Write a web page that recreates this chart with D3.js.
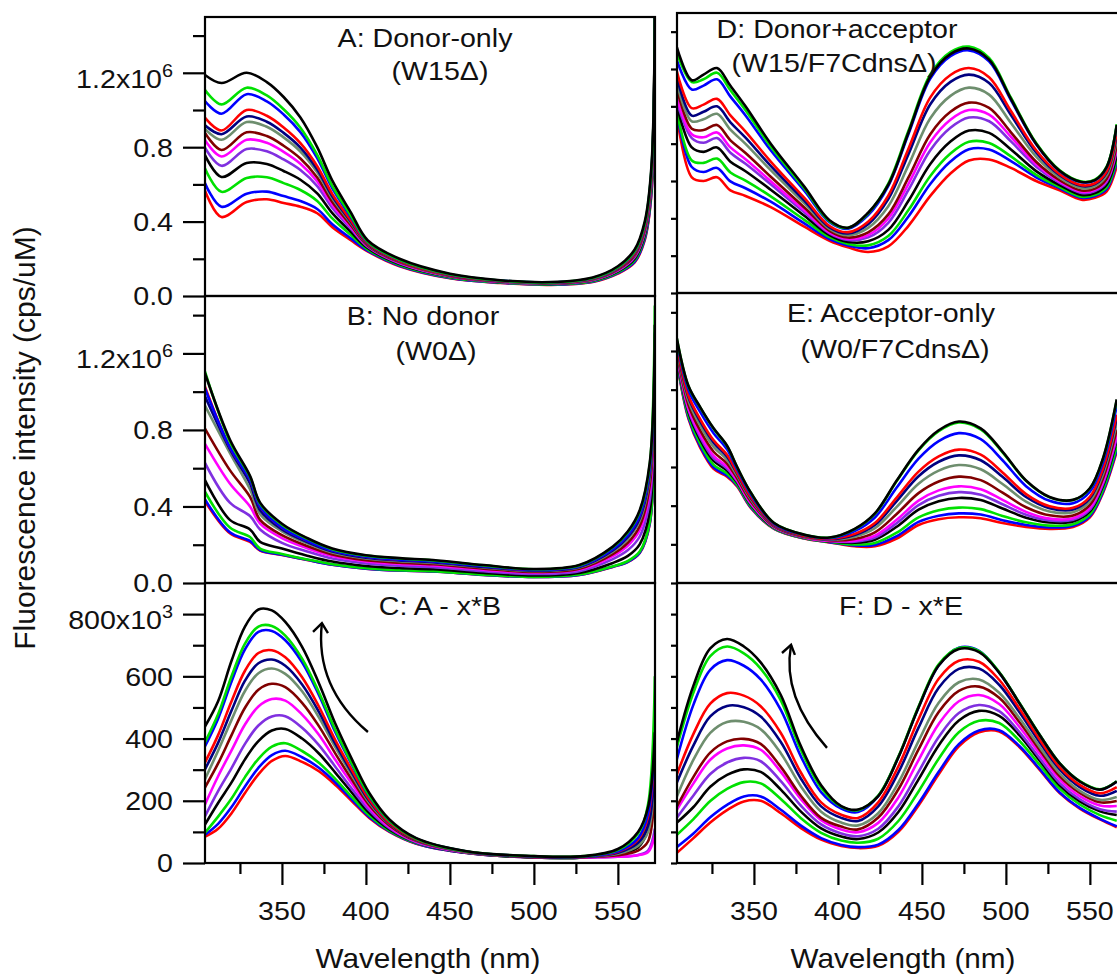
<!DOCTYPE html>
<html><head><meta charset="utf-8">
<script src="https://cdn.jsdelivr.net/npm/d3@7"></script>
<style>body{margin:0;background:#fff}svg{display:block}</style>
</head><body>
<svg id="fig" width="1117" height="977"></svg>
<script>
// Trace colours, top trace (index 0) to bottom trace (index 12)
const traceColors = ["#000000", "#00e000", "#0000ff", "#ff0000", "#000080", "#6e8e6e",
  "#800000", "#ff00ff", "#8030e0", "#000000", "#00e000", "#0000ff", "#ff0000"];

// A: Donor-only (W15Δ), x10^6 cps/uM
const wlA = [304, 314, 329, 341, 351, 361, 371, 380, 391, 401, 420, 450, 480, 510, 535, 550, 560, 566, 570, 572];
const specA = [
  [1.19, 1.145, 1.20, 1.15, 1.07, 0.96, 0.80, 0.62, 0.45, 0.30, 0.20, 0.12, 0.085, 0.075, 0.10, 0.16, 0.25, 0.40, 0.70, 1.6],
  [1.11, 1.03, 1.12, 1.078, 1.004, 0.905, 0.759, 0.591, 0.433, 0.293, 0.195, 0.117, 0.083, 0.073, 0.097, 0.155, 0.242, 0.389, 0.683, 1.57],
  [1.05, 0.98, 1.085, 1.046, 0.976, 0.881, 0.741, 0.579, 0.425, 0.29, 0.193, 0.116, 0.083, 0.073, 0.096, 0.153, 0.238, 0.384, 0.675, 1.55],
  [0.96, 0.89, 1.00, 0.969, 0.906, 0.822, 0.698, 0.548, 0.407, 0.283, 0.188, 0.113, 0.081, 0.071, 0.093, 0.148, 0.23, 0.371, 0.657, 1.51],
  [0.92, 0.87, 0.965, 0.937, 0.877, 0.798, 0.68, 0.536, 0.399, 0.28, 0.186, 0.112, 0.08, 0.07, 0.092, 0.146, 0.226, 0.366, 0.649, 1.5],
  [0.90, 0.84, 0.935, 0.91, 0.853, 0.777, 0.665, 0.525, 0.393, 0.277, 0.185, 0.11, 0.079, 0.069, 0.09, 0.145, 0.223, 0.362, 0.643, 1.49],
  [0.88, 0.785, 0.88, 0.86, 0.808, 0.739, 0.637, 0.505, 0.381, 0.272, 0.182, 0.108, 0.078, 0.068, 0.089, 0.142, 0.218, 0.354, 0.631, 1.46],
  [0.84, 0.75, 0.84, 0.824, 0.775, 0.711, 0.616, 0.49, 0.372, 0.269, 0.179, 0.107, 0.077, 0.067, 0.087, 0.139, 0.214, 0.348, 0.622, 1.44],
  [0.80, 0.70, 0.79, 0.778, 0.734, 0.677, 0.591, 0.473, 0.362, 0.265, 0.176, 0.105, 0.076, 0.066, 0.085, 0.136, 0.209, 0.341, 0.612, 1.42],
  [0.76, 0.64, 0.715, 0.71, 0.672, 0.625, 0.552, 0.446, 0.345, 0.258, 0.172, 0.103, 0.075, 0.065, 0.083, 0.132, 0.201, 0.33, 0.595, 1.39],
  [0.69, 0.56, 0.635, 0.638, 0.607, 0.57, 0.511, 0.417, 0.328, 0.251, 0.167, 0.10, 0.073, 0.063, 0.08, 0.127, 0.193, 0.319, 0.578, 1.36],
  [0.61, 0.48, 0.55, 0.561, 0.537, 0.511, 0.468, 0.386, 0.31, 0.244, 0.163, 0.097, 0.071, 0.061, 0.077, 0.123, 0.185, 0.307, 0.56, 1.32],
  [0.57, 0.425, 0.505, 0.52, 0.50, 0.48, 0.445, 0.37, 0.30, 0.24, 0.16, 0.095, 0.07, 0.06, 0.075, 0.12, 0.18, 0.30, 0.55, 1.3]
];

// B: No donor (W0Δ), x10^6 cps/uM
const wlB = [304, 319, 331, 337, 350, 365, 380, 400, 420, 440, 470, 500, 527, 547, 556, 563, 569, 572];
const specB = [
  [1.10, 0.75, 0.56, 0.42, 0.31, 0.235, 0.18, 0.145, 0.13, 0.12, 0.094, 0.073, 0.094, 0.19, 0.27, 0.38, 0.63, 1.35],
  [1.11, 0.74, 0.555, 0.415, 0.305, 0.232, 0.177, 0.143, 0.128, 0.118, 0.092, 0.072, 0.092, 0.187, 0.265, 0.373, 0.62, 1.45],
  [1.02, 0.71, 0.54, 0.40, 0.29, 0.221, 0.17, 0.137, 0.122, 0.113, 0.088, 0.068, 0.088, 0.177, 0.251, 0.353, 0.592, 1.31],
  [1.03, 0.71, 0.54, 0.40, 0.29, 0.222, 0.171, 0.138, 0.123, 0.114, 0.089, 0.069, 0.089, 0.178, 0.252, 0.354, 0.59, 1.30],
  [0.98, 0.70, 0.52, 0.38, 0.28, 0.214, 0.164, 0.132, 0.118, 0.109, 0.084, 0.065, 0.084, 0.17, 0.241, 0.339, 0.571, 1.286],
  [0.93, 0.68, 0.49, 0.36, 0.27, 0.207, 0.159, 0.128, 0.114, 0.105, 0.081, 0.063, 0.081, 0.164, 0.231, 0.325, 0.552, 1.264],
  [0.81, 0.59, 0.45, 0.33, 0.25, 0.193, 0.149, 0.119, 0.106, 0.098, 0.075, 0.058, 0.075, 0.151, 0.211, 0.298, 0.512, 1.22],
  [0.73, 0.52, 0.40, 0.31, 0.235, 0.182, 0.141, 0.113, 0.10, 0.092, 0.07, 0.054, 0.07, 0.141, 0.196, 0.277, 0.483, 1.19],
  [0.63, 0.42, 0.35, 0.28, 0.21, 0.165, 0.128, 0.102, 0.09, 0.083, 0.062, 0.047, 0.062, 0.125, 0.172, 0.243, 0.434, 1.135],
  [0.54, 0.33, 0.28, 0.215, 0.18, 0.143, 0.112, 0.089, 0.078, 0.072, 0.053, 0.039, 0.053, 0.105, 0.142, 0.202, 0.375, 1.07],
  [0.48, 0.29, 0.24, 0.18, 0.152, 0.123, 0.098, 0.077, 0.067, 0.062, 0.044, 0.032, 0.044, 0.087, 0.115, 0.164, 0.32, 1.01],
  [0.44, 0.265, 0.22, 0.172, 0.148, 0.121, 0.096, 0.075, 0.065, 0.06, 0.042, 0.031, 0.042, 0.085, 0.111, 0.158, 0.312, 1.0],
  [0.43, 0.26, 0.215, 0.17, 0.147, 0.12, 0.095, 0.075, 0.065, 0.06, 0.042, 0.031, 0.042, 0.084, 0.11, 0.157, 0.31, 1.0]
];

// C: A - x*B, x10^3 cps/uM
const wlC = [304, 312, 320, 328, 336, 344, 352, 362, 372, 382, 392, 402, 414, 430, 460, 500, 530, 550, 562, 568, 572];
const specC = [
  [437, 520, 650, 760, 815, 812, 775, 695, 578, 445, 330, 225, 140, 80, 38, 22, 22, 45, 100, 180, 420],
  [386, 478, 600, 705, 760, 762, 731, 657, 549, 425, 316, 217, 136, 78, 37, 22, 22, 42, 95, 190, 600],
  [373, 464, 583, 687, 743, 746, 716, 645, 540, 418, 312, 214, 135, 78, 37, 21, 21, 38, 80, 160, 400],
  [321, 411, 520, 618, 675, 684, 661, 597, 503, 393, 295, 204, 129, 75, 36, 21, 21, 36, 75, 150, 380],
  [299, 386, 490, 586, 642, 654, 634, 574, 486, 381, 287, 199, 127, 74, 36, 20, 20, 33, 65, 120, 330],
  [267, 361, 460, 553, 610, 625, 608, 552, 468, 370, 279, 194, 125, 73, 35, 20, 20, 30, 55, 100, 300],
  [241, 320, 411, 499, 557, 576, 565, 515, 440, 350, 265, 186, 121, 71, 35, 19, 19, 25, 40, 70, 250],
  [186, 279, 362, 445, 503, 527, 522, 477, 412, 330, 252, 178, 116, 69, 34, 19, 18, 20, 25, 35, 90],
  [148, 231, 305, 383, 442, 471, 472, 435, 379, 308, 236, 169, 112, 67, 34, 19, 18, 20, 26, 40, 110],
  [122, 193, 259, 333, 392, 426, 431, 400, 352, 289, 224, 161, 108, 66, 33, 18, 18, 28, 50, 110, 320],
  [96, 149, 207, 276, 335, 374, 385, 360, 322, 269, 210, 153, 104, 64, 33, 18, 18, 35, 70, 160, 500],
  [90, 126, 180, 246, 306, 347, 361, 340, 306, 258, 202, 148, 102, 63, 32, 18, 18, 32, 62, 140, 380],
  [84, 110, 160, 225, 285, 328, 344, 325, 295, 250, 197, 145, 100, 62, 32, 18, 18, 30, 60, 140, 350]
];

// D: Donor+acceptor (W15/F7CdnsΔ), x10^6 cps/uM
const wlD = [304, 313, 320, 328, 336, 345, 360, 380, 395, 406, 418, 430, 442, 455, 467, 478, 490, 503, 518, 532, 545, 553, 560, 566];
const specD = [
  [1.32, 1.14, 1.17, 1.205, 1.11, 1.00, 0.80, 0.57, 0.39, 0.35, 0.43, 0.58, 0.86, 1.16, 1.28, 1.31, 1.25, 1.04, 0.80, 0.655, 0.595, 0.605, 0.675, 0.90],
  [1.29, 1.13, 1.145, 1.18, 1.086, 0.979, 0.785, 0.561, 0.385, 0.349, 0.427, 0.586, 0.869, 1.171, 1.291, 1.32, 1.259, 1.046, 0.803, 0.657, 0.597, 0.607, 0.677, 0.904],
  [1.25, 1.09, 1.111, 1.145, 1.052, 0.951, 0.765, 0.548, 0.379, 0.344, 0.417, 0.574, 0.852, 1.149, 1.269, 1.30, 1.241, 1.034, 0.797, 0.653, 0.593, 0.603, 0.673, 0.896],
  [1.19, 0.99, 1.009, 1.04, 0.952, 0.865, 0.704, 0.509, 0.359, 0.326, 0.382, 0.522, 0.773, 1.048, 1.168, 1.205, 1.156, 0.975, 0.765, 0.637, 0.578, 0.588, 0.652, 0.862],
  [1.16, 0.95, 0.971, 1.00, 0.914, 0.832, 0.681, 0.495, 0.352, 0.319, 0.369, 0.503, 0.744, 1.011, 1.131, 1.17, 1.125, 0.954, 0.753, 0.631, 0.573, 0.583, 0.645, 0.849],
  [1.13, 0.92, 0.931, 0.96, 0.875, 0.799, 0.658, 0.48, 0.344, 0.31, 0.349, 0.465, 0.685, 0.936, 1.056, 1.10, 1.063, 0.911, 0.73, 0.618, 0.562, 0.572, 0.63, 0.823],
  [1.10, 0.88, 0.873, 0.90, 0.818, 0.75, 0.623, 0.458, 0.333, 0.297, 0.325, 0.421, 0.619, 0.851, 0.971, 1.02, 0.992, 0.861, 0.703, 0.604, 0.549, 0.559, 0.612, 0.794],
  [1.05, 0.85, 0.834, 0.86, 0.78, 0.717, 0.599, 0.443, 0.325, 0.29, 0.31, 0.399, 0.585, 0.808, 0.928, 0.98, 0.956, 0.837, 0.69, 0.597, 0.543, 0.553, 0.604, 0.779],
  [1.03, 0.83, 0.805, 0.83, 0.751, 0.692, 0.582, 0.432, 0.319, 0.284, 0.298, 0.376, 0.552, 0.765, 0.885, 0.94, 0.92, 0.812, 0.677, 0.59, 0.536, 0.546, 0.595, 0.764],
  [1.01, 0.78, 0.756, 0.78, 0.703, 0.652, 0.553, 0.414, 0.31, 0.273, 0.277, 0.338, 0.494, 0.691, 0.811, 0.87, 0.858, 0.769, 0.653, 0.578, 0.525, 0.535, 0.58, 0.739],
  [0.98, 0.71, 0.697, 0.72, 0.646, 0.602, 0.518, 0.392, 0.299, 0.263, 0.255, 0.305, 0.444, 0.627, 0.747, 0.81, 0.804, 0.732, 0.633, 0.568, 0.516, 0.526, 0.567, 0.717],
  [0.97, 0.675, 0.648, 0.67, 0.598, 0.561, 0.489, 0.373, 0.289, 0.255, 0.24, 0.283, 0.41, 0.584, 0.704, 0.77, 0.769, 0.707, 0.62, 0.561, 0.51, 0.52, 0.558, 0.702],
  [0.96, 0.62, 0.60, 0.62, 0.55, 0.52, 0.46, 0.355, 0.28, 0.245, 0.22, 0.25, 0.36, 0.52, 0.64, 0.71, 0.715, 0.67, 0.60, 0.55, 0.50, 0.51, 0.545, 0.68]
];

// E: Acceptor-only (W0/F7CdnsΔ), x10^6 cps/uM
const wlE = [304, 311, 318, 326, 334, 340, 348, 362, 380, 395, 410, 422, 435, 448, 460, 472, 485, 498, 512, 526, 540, 550, 558, 566];
const specE = [
  [1.27, 1.02, 0.91, 0.80, 0.71, 0.60, 0.47, 0.31, 0.25, 0.235, 0.28, 0.36, 0.53, 0.69, 0.79, 0.835, 0.80, 0.68, 0.53, 0.445, 0.43, 0.49, 0.65, 0.95],
  [1.269, 1.018, 0.908, 0.798, 0.708, 0.599, 0.469, 0.31, 0.25, 0.235, 0.279, 0.358, 0.527, 0.686, 0.785, 0.83, 0.795, 0.676, 0.528, 0.443, 0.429, 0.489, 0.648, 0.947],
  [1.255, 1.0, 0.885, 0.775, 0.691, 0.588, 0.46, 0.306, 0.248, 0.232, 0.269, 0.339, 0.494, 0.643, 0.734, 0.775, 0.744, 0.635, 0.501, 0.425, 0.413, 0.472, 0.628, 0.917],
  [1.235, 0.97, 0.848, 0.738, 0.663, 0.571, 0.447, 0.301, 0.244, 0.228, 0.254, 0.31, 0.442, 0.576, 0.655, 0.69, 0.664, 0.572, 0.46, 0.397, 0.389, 0.446, 0.597, 0.871],
  [1.228, 0.96, 0.836, 0.726, 0.653, 0.565, 0.442, 0.299, 0.243, 0.226, 0.248, 0.30, 0.424, 0.552, 0.627, 0.66, 0.635, 0.549, 0.445, 0.387, 0.38, 0.437, 0.586, 0.854],
  [1.215, 0.943, 0.814, 0.704, 0.637, 0.555, 0.434, 0.296, 0.241, 0.224, 0.239, 0.283, 0.394, 0.513, 0.581, 0.61, 0.588, 0.512, 0.421, 0.37, 0.366, 0.422, 0.568, 0.827],
  [1.201, 0.922, 0.789, 0.679, 0.618, 0.542, 0.424, 0.293, 0.238, 0.221, 0.228, 0.262, 0.357, 0.465, 0.525, 0.55, 0.532, 0.467, 0.392, 0.35, 0.349, 0.404, 0.546, 0.794],
  [1.189, 0.905, 0.768, 0.658, 0.602, 0.532, 0.416, 0.29, 0.236, 0.218, 0.219, 0.245, 0.327, 0.426, 0.479, 0.50, 0.485, 0.43, 0.368, 0.333, 0.335, 0.388, 0.528, 0.767],
  [1.182, 0.895, 0.755, 0.645, 0.592, 0.526, 0.411, 0.288, 0.235, 0.217, 0.214, 0.235, 0.309, 0.403, 0.451, 0.47, 0.457, 0.407, 0.353, 0.323, 0.327, 0.379, 0.517, 0.751],
  [1.174, 0.884, 0.742, 0.632, 0.582, 0.52, 0.406, 0.286, 0.234, 0.215, 0.208, 0.224, 0.291, 0.379, 0.423, 0.44, 0.429, 0.385, 0.338, 0.313, 0.318, 0.37, 0.506, 0.735],
  [1.162, 0.867, 0.721, 0.611, 0.566, 0.51, 0.398, 0.283, 0.232, 0.213, 0.199, 0.207, 0.26, 0.339, 0.376, 0.39, 0.382, 0.347, 0.314, 0.297, 0.304, 0.355, 0.488, 0.707],
  [1.155, 0.857, 0.708, 0.598, 0.556, 0.504, 0.393, 0.281, 0.231, 0.211, 0.194, 0.197, 0.242, 0.316, 0.348, 0.36, 0.354, 0.325, 0.30, 0.287, 0.296, 0.346, 0.477, 0.691],
  [1.15, 0.85, 0.70, 0.59, 0.55, 0.50, 0.39, 0.28, 0.23, 0.21, 0.19, 0.19, 0.23, 0.30, 0.33, 0.34, 0.335, 0.31, 0.29, 0.28, 0.29, 0.34, 0.47, 0.68]
];

// F: D - x*E, x10^3 cps/uM
const wlF = [304, 314, 324, 334, 344, 354, 366, 378, 390, 402, 412, 424, 436, 448, 460, 472, 484, 496, 508, 520, 532, 544, 556, 566];
const specF = [
  [386, 570, 690, 720, 696, 645, 540, 375, 250, 183, 172, 215, 340, 500, 635, 688, 678, 612, 514, 412, 320, 262, 236, 262],
  [370, 548, 665, 696, 674, 625, 523, 363, 242, 181, 170, 217, 342, 503, 639, 691, 681, 614, 515, 413, 321, 263, 237, 263],
  [331, 509, 621, 652, 634, 590, 492, 342, 228, 175, 164, 215, 340, 500, 635, 692, 682, 612, 514, 412, 320, 262, 236, 262],
  [283, 415, 512, 546, 538, 504, 418, 290, 195, 155, 145, 195, 311, 462, 592, 650, 647, 589, 497, 398, 308, 251, 224, 244],
  [257, 378, 471, 505, 501, 471, 389, 271, 182, 145, 135, 182, 291, 435, 563, 624, 625, 573, 485, 389, 301, 244, 216, 232],
  [212, 332, 418, 453, 454, 430, 353, 246, 165, 130, 121, 160, 258, 392, 515, 581, 590, 547, 466, 374, 288, 232, 203, 212],
  [180, 277, 355, 391, 399, 383, 309, 216, 145, 117, 108, 146, 237, 365, 485, 553, 567, 531, 453, 364, 279, 225, 195, 199],
  [170, 256, 332, 368, 378, 364, 293, 205, 138, 108, 99, 129, 211, 331, 447, 520, 540, 511, 438, 352, 269, 215, 185, 183],
  [145, 217, 286, 323, 338, 327, 263, 184, 124, 95, 86, 110, 182, 293, 405, 482, 508, 488, 421, 338, 257, 205, 173, 165],
  [129, 180, 245, 283, 301, 293, 236, 165, 111, 85, 77, 98, 164, 269, 378, 458, 489, 473, 411, 330, 250, 198, 166, 154],
  [90, 141, 199, 238, 260, 256, 206, 144, 97, 72, 65, 78, 135, 230, 335, 420, 457, 450, 393, 316, 239, 188, 154, 136],
  [51, 95, 147, 187, 214, 214, 171, 120, 80, 58, 51, 59, 106, 192, 293, 382, 426, 427, 376, 303, 227, 177, 142, 118],
  [32, 80, 130, 170, 198, 200, 160, 112, 75, 55, 48, 55, 100, 185, 285, 375, 420, 423, 373, 300, 225, 175, 140, 115]
];

// Axis ticks and labels
const millionMajor = [0, 0.4, 0.8, 1.2];
const millionMinor = [0.2, 0.6, 1.0, 1.4];
const millionLabels = ["0.0", "0.4", "0.8", "1.2"];
const thousandMajor = [0, 200, 400, 600, 800];
const thousandMinor = [100, 300, 500, 700];
const thousandLabels = ["0", "200", "400", "600", "800"];
const wlMajor = [350, 400, 450, 500, 550];
const wlMinor = [325, 375, 425, 475, 525];

// Curved arrows in C and F (wavelength, intensity in x10^3)
const arrowC = {tail: [401.2, 421], ctrl: [369.5, 566], tip: [373.8, 771], barbL: [368.5, 743], barbR: [377.4, 739]};
const arrowF = {tail: [393.5, 370], ctrl: [366.5, 534], tip: [372.1, 701], barbL: [366.7, 675], barbR: [374.4, 669]};

const FONT = "'Liberation Sans', Arial, Helvetica, sans-serif";
const svg = d3.select("#fig");
svg.append("rect").attr("width", 1117).attr("height", 977).attr("fill", "#fff");

const xLeft = d3.scaleLinear().domain([304.2, 572.1]).range([205, 655]);
const xRight = d3.scaleLinear().domain([304.2, 572.1]).range([677, 1127]);

function txt(g, x, y, s, size, anchor) {
  return g.append("text")
    .attr("transform", `translate(${x},${y}) scale(1.1,1)`)
    .attr("text-anchor", anchor)
    .attr("font-family", FONT)
    .attr("font-size", size)
    .attr("fill", "#111")
    .text(s);
}

const panels = [
  {wl: wlA, spec: specA, x: xLeft, y: d3.scaleLinear().domain([0, 1.5]).range([296, 17]), side: "L", kind: "M",
   title: [["A: Donor-only", 425, 47], ["(W15Δ)", 440, 80]]},
  {wl: wlB, spec: specB, x: xLeft, y: d3.scaleLinear().domain([0, 1.5]).range([583, 296]), side: "L", kind: "M",
   title: [["B: No donor", 423, 325], ["(W0Δ)", 436, 360]]},
  {wl: wlC, spec: specC, x: xLeft, y: d3.scaleLinear().domain([0, 900]).range([863, 583]), side: "L", kind: "K", bottom: true,
   title: [["C: A - x*B", 440, 615]], arrow: arrowC},
  {wl: wlD, spec: specD, x: xRight, y: d3.scaleLinear().domain([0, 1.5]).range([293, 13]), side: "R", kind: "M",
   title: [["D: Donor+acceptor", 837, 38], ["(W15/F7CdnsΔ)", 834, 72]]},
  {wl: wlE, spec: specE, x: xRight, y: d3.scaleLinear().domain([0, 1.5]).range([583, 293]), side: "R", kind: "M",
   title: [["E: Acceptor-only", 891, 322], ["(W0/F7CdnsΔ)", 895, 358]]},
  {wl: wlF, spec: specF, x: xRight, y: d3.scaleLinear().domain([0, 900]).range([863, 583]), side: "R", kind: "K", bottom: true,
   title: [["F: D - x*E", 901, 615]], arrow: arrowF}
];

panels.forEach((p, pi) => {
  const g = svg.append("g");
  const [x0, x1] = p.x.range();
  const [yb, yt] = p.y.range();
  const clipId = "clip" + pi;
  g.append("clipPath").attr("id", clipId)
    .append("rect").attr("x", x0).attr("y", yt).attr("width", x1 - x0).attr("height", yb - yt);

  // spectra, bottom trace first so the top trace is drawn last
  const line = d3.line()
    .x((d, i) => p.x(p.wl[i]))
    .y(d => p.y(d))
    .curve(d3.curveCatmullRom.alpha(0.5));
  const traces = g.append("g").attr("clip-path", `url(#${clipId})`);
  for (let k = p.spec.length - 1; k >= 0; k--) {
    traces.append("path")
      .attr("d", line(p.spec[k]))
      .attr("fill", "none")
      .attr("stroke", traceColors[k])
      .attr("stroke-width", 2.6)
      .attr("stroke-linejoin", "round");
  }

  // frame
  g.append("rect").attr("x", x0).attr("y", yt).attr("width", x1 - x0).attr("height", yb - yt)
    .attr("fill", "none").attr("stroke", "#000").attr("stroke-width", 2.2);

  // y ticks
  const major = p.kind === "M" ? millionMajor : thousandMajor;
  const minor = p.kind === "M" ? millionMinor : thousandMinor;
  const yTicks = (vals, size) => {
    const a = g.append("g").attr("transform", `translate(${x0},0)`)
      .call(d3.axisLeft(p.y).tickValues(vals).tickSize(size).tickFormat(""));
    a.select(".domain").remove();
    a.selectAll("line").attr("stroke", "#000").attr("stroke-width", 2.2);
  };
  if (p.side === "L") {
    yTicks(major, 22);
    yTicks(minor, 12);
    const labels = p.kind === "M" ? millionLabels : thousandLabels;
    major.forEach((v, i) => {
      const yy = p.y(v);
      if (i === major.length - 1) {
        const t = txt(g, 173, yy + 15, labels[i] + "x10", 26, "end");
        t.append("tspan").attr("dy", -11).attr("font-size", 18).text(p.kind === "M" ? "6" : "3");
      } else {
        txt(g, 173, yy + 9.3, labels[i], 26, "end");
      }
    });
  } else {
    yTicks(major.concat(minor), 6);
  }

  // x ticks on the bottom row
  if (p.bottom) {
    const xTicks = (vals, size) => {
      const a = g.append("g").attr("transform", `translate(0,${yb})`)
        .call(d3.axisBottom(p.x).tickValues(vals).tickSize(size).tickFormat(""));
      a.select(".domain").remove();
      a.selectAll("line").attr("stroke", "#000").attr("stroke-width", 2.2);
    };
    xTicks(wlMajor, 22);
    xTicks(wlMinor, 11);
    wlMajor.forEach(w => txt(g, p.x(w), 920, String(w), 26, "middle"));
    txt(g, p.side === "L" ? 428 : 903, 968, "Wavelength (nm)", 27, "middle");
  }

  // panel titles
  p.title.forEach(([s, cx, by]) => txt(g, cx, by, s, 26, "middle"));

  // curved arrow
  if (p.arrow) {
    const P = q => [p.x(q[0]), p.y(q[1])];
    const [tx, ty] = P(p.arrow.tail), [cx, cy] = P(p.arrow.ctrl), [hx, hy] = P(p.arrow.tip);
    const [lx, ly] = P(p.arrow.barbL), [rx, ry] = P(p.arrow.barbR);
    g.append("path").attr("d", `M${tx},${ty} Q${cx},${cy} ${hx},${hy}`)
      .attr("fill", "none").attr("stroke", "#000").attr("stroke-width", 2.4);
    g.append("path").attr("d", `M${lx},${ly} L${hx},${hy} L${rx},${ry}`)
      .attr("fill", "none").attr("stroke", "#000").attr("stroke-width", 2.4)
      .attr("stroke-linejoin", "miter");
  }
});

// shared y-axis title
svg.append("text")
  .attr("transform", "translate(35,438) rotate(-90)")
  .attr("text-anchor", "middle")
  .attr("font-family", FONT)
  .attr("font-size", 30)
  .attr("fill", "#111")
  .text("Fluorescence intensity (cps/uM)");
</script>
</body></html>
